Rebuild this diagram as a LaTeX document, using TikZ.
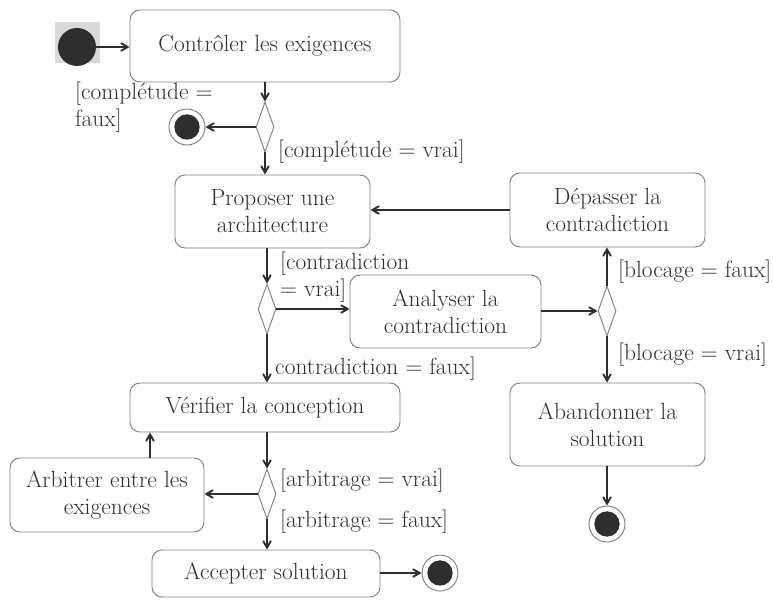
\documentclass[tikz,border=0pt]{standalone}
\usetikzlibrary{arrows,shapes.geometric}
\definecolor{ink}{HTML}{2E2E2E}
\definecolor{edge}{HTML}{808080}
\begin{document}
\begin{tikzpicture}[
	action/.style={rectangle, rounded corners=0.3cm, draw=edge, thick, text=ink, align=center, inner sep=0pt, font=\fontsize{20}{23}\selectfont},
	choice/.style={diamond, draw=edge, thick, minimum width=0.54cm, minimum height=1.5cm, inner sep=0pt},
	start/.style={circle, fill=ink, minimum size=1.14cm, inner sep=0pt},
	stop/.style={circle, draw=edge, thick, minimum size=1.08cm, inner sep=0pt, path picture={\fill[ink] (path picture bounding box.center) circle (0.38cm);}},
	flow/.style={->, >=angle 60, line width=1.6pt, draw=ink},
	guard/.style={text=ink, align=left, inner sep=0pt, font=\fontsize{20}{23}\selectfont},
	scale=1
	]
	\useasboundingbox (0,0) rectangle (23.19,18);
	\fill[black!15] (1.65,16.11) rectangle (3.0,17.34);
	\node[start] (init) at (2.31,16.59) {};
	\node[action, minimum width=8.1cm, minimum height=2.16cm] (ctrl) at (7.95,16.62) {Contrôler les exigences};
	\node[choice] (d1) at (7.95,14.19) {};
	\node[stop] (f1) at (5.61,14.19) {};
	\node[action, minimum width=5.85cm, minimum height=2.19cm] (prop) at (8.175,11.655) {Proposer une\\architecture};
	\node[action, minimum width=5.85cm, minimum height=2.22cm] (dep) at (18.225,11.7) {Dépasser la\\contradiction};
	\node[choice] (d2) at (8.01,8.73) {};
	\node[action, minimum width=5.73cm, minimum height=2.19cm] (ana) at (13.365,8.655) {Analyser la\\contradiction};
	\node[choice] (d3) at (18.21,8.67) {};
	\node[action, minimum width=5.85cm, minimum height=2.49cm] (aband) at (18.225,5.265) {Abandonner la\\solution};
	\node[stop] (f2) at (18.21,2.28) {};
	\node[action, minimum width=8.1cm, minimum height=1.47cm] (verif) at (7.95,5.775) {Vérifier la conception};
	\node[choice] (d4) at (8.01,3.18) {};
	\node[action, minimum width=5.82cm, minimum height=2.22cm] (arb) at (3.21,3.15) {Arbitrer entre les\\exigences};
	\node[action, minimum width=6.84cm, minimum height=1.41cm] (acc) at (7.98,0.795) {Accepter solution};
	\node[stop] (f3) at (13.2,0.81) {};
	\coordinate (up) at (4.5,0);

	\node[guard, anchor=west] (g1) at (2.25,14.79) {[complétude =\\faux]};
	\node[guard, anchor=west] (g2) at (8.34,13.44) {[complétude = vrai]};
	\node[guard, anchor=west] (g3) at (8.4,9.69) {[contradiction\\= vrai]};
	\node[guard, anchor=west] (g4) at (8.25,6.93) {contradiction = faux]};
	\node[guard, anchor=west] (g5) at (18.54,9.84) {[blocage = faux]};
	\node[guard, anchor=west] (g6) at (18.54,7.35) {[blocage = vrai]};
	\node[guard, anchor=west] (g7) at (8.4,3.57) {[arbitrage = vrai]};
	\node[guard, anchor=west] (g8) at (8.4,2.34) {[arbitrage = faux]};

	\draw[flow] (init) -- (ctrl.west |- init);
	\draw[flow] (ctrl.south -| d1) -- (d1.north);
	\draw[flow] (d1.west) -- (f1);
	\draw[flow] (d1.south) -- (prop.north -| d1);
	\draw[flow] (dep.west) -- (prop.east |- dep.west);
	\draw[flow] (prop.south -| d2) -- (d2.north);
	\draw[flow] (d2.east) -- (ana.west |- d2.east);
	\draw[flow] (d2.south) -- (verif.north -| d2);
	\draw[flow] (ana.east |- d3) -- (d3.west);
	\draw[flow] (d3.north) -- (dep.south -| d3);
	\draw[flow] (d3.south) -- (aband.north -| d3);
	\draw[flow] (aband.south -| f2) -- (f2);
	\draw[flow] (verif.south -| d4) -- (d4.north);
	\draw[flow] (d4.west) -- (arb.east |- d4.west);
	\draw[flow] (arb.north -| up) -- (verif.south -| up);
	\draw[flow] (d4.south) -- (acc.north -| d4);
	\draw[flow] (acc.east |- f3) -- (f3);
\end{tikzpicture}
\end{document}
